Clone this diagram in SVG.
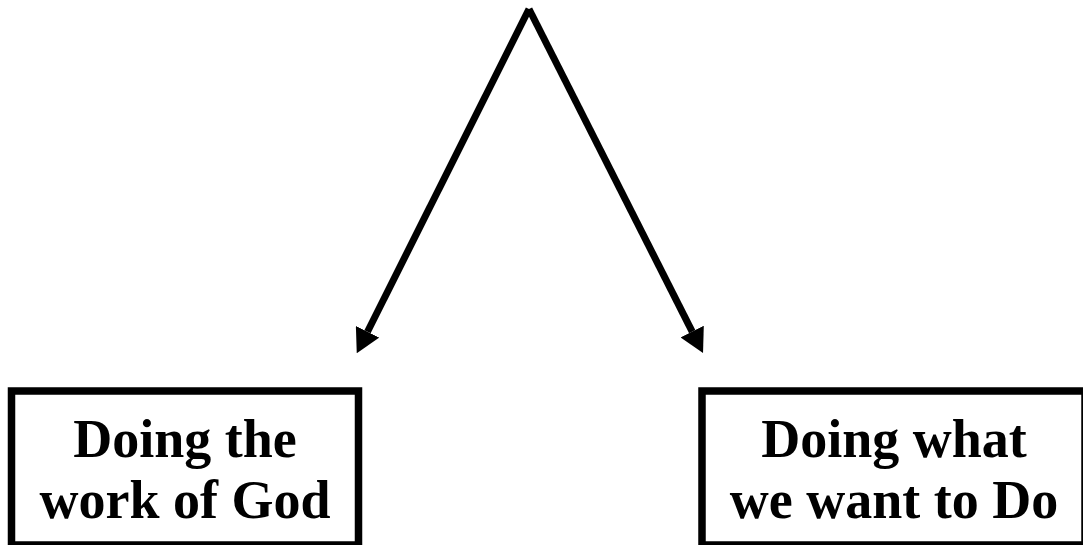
<svg xmlns="http://www.w3.org/2000/svg" width="1083" height="545" viewBox="0 0 1083 545">
<style>
.box{fill:#fff;stroke:#000;stroke-width:7.5}
.lbl{font-family:"Liberation Serif","Times New Roman",serif;font-weight:bold;font-size:54px;fill:#000;text-anchor:middle}
.conn{stroke:#000;stroke-width:7;fill:none}
</style>
<defs>
<marker id="ah" markerUnits="userSpaceOnUse" viewBox="0 0 24 26" refX="0" refY="13" markerWidth="24" markerHeight="26" orient="auto">
<path d="M0,0 L24,13 L0,26 z" fill="#000"/>
</marker>
</defs>
<rect width="1083" height="545" fill="#fff"/>
<g id="connectors">
<line class="conn" x1="529" y1="9" x2="367.5" y2="331.8" marker-end="url(#ah)"/>
<line class="conn" x1="529" y1="9" x2="692.2" y2="331.6" marker-end="url(#ah)"/>
</g>
<g id="node-left">
<rect class="box" x="11.5" y="391" width="347" height="154"/>
<text class="lbl" x="185" y="457">Doing the</text>
<text class="lbl" x="185" y="518">work of God</text>
</g>
<g id="node-right">
<rect class="box" x="702" y="391" width="383" height="154"/>
<text class="lbl" x="894" y="457">Doing what</text>
<text class="lbl" x="894" y="518">we want to Do</text>
</g>
</svg>
